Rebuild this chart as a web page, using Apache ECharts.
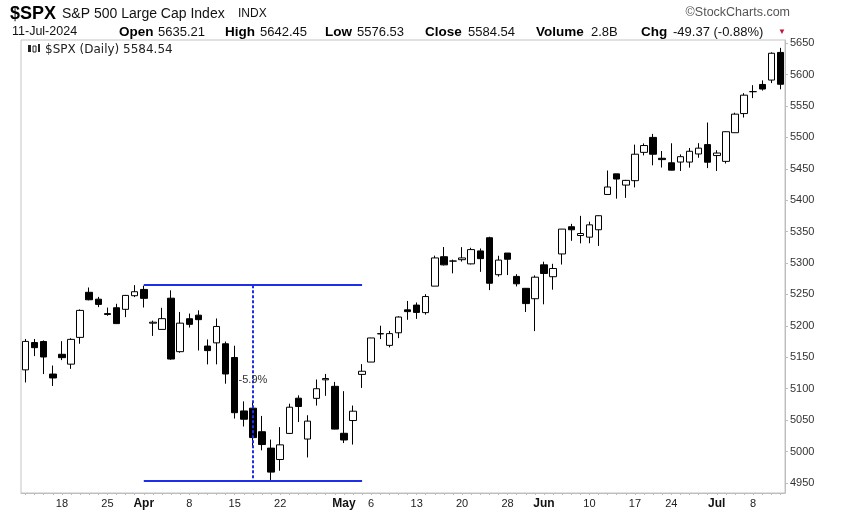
<!DOCTYPE html>
<html><head><meta charset="utf-8">
<script src="https://cdn.jsdelivr.net/npm/echarts@6/dist/echarts.min.js"></script>
<style>html,body{margin:0;padding:0;background:#fff}#c{width:848px;height:513px}</style>
</head><body><div id="c"></div>
<script>
const dates = [
'2024-03-12','2024-03-13','2024-03-14','2024-03-15','2024-03-18','2024-03-19','2024-03-20','2024-03-21','2024-03-22','2024-03-25','2024-03-26','2024-03-27','2024-03-28',
'2024-04-01','2024-04-02','2024-04-03','2024-04-04','2024-04-05','2024-04-08','2024-04-09','2024-04-10','2024-04-11','2024-04-12','2024-04-15','2024-04-16','2024-04-17','2024-04-18','2024-04-19','2024-04-22','2024-04-23','2024-04-24','2024-04-25','2024-04-26','2024-04-29','2024-04-30',
'2024-05-01','2024-05-02','2024-05-03','2024-05-06','2024-05-07','2024-05-08','2024-05-09','2024-05-10','2024-05-13','2024-05-14','2024-05-15','2024-05-16','2024-05-17','2024-05-20','2024-05-21','2024-05-22','2024-05-23','2024-05-24','2024-05-28','2024-05-29','2024-05-30','2024-05-31',
'2024-06-03','2024-06-04','2024-06-05','2024-06-06','2024-06-07','2024-06-10','2024-06-11','2024-06-12','2024-06-13','2024-06-14','2024-06-17','2024-06-18','2024-06-20','2024-06-21','2024-06-24','2024-06-25','2024-06-26','2024-06-27','2024-06-28',
'2024-07-01','2024-07-02','2024-07-03','2024-07-05','2024-07-08','2024-07-09','2024-07-10','2024-07-11'];
const opens = [5130, 5173.49, 5175.14, 5123.31, 5154.77, 5139.09, 5181.69, 5253.43, 5242.48, 5219.52, 5228.85, 5226.31, 5248.03,
5257.97, 5204.29, 5194.37, 5244.05, 5158.95, 5211.37, 5217.03, 5167.88, 5172.95, 5171.51, 5149.67, 5064.59, 5068.97, 5031.52, 5005.44, 4987.33, 5028.85, 5084.86, 5019.88, 5084.65, 5114.13, 5103.78,
5029.03, 5049.32, 5122.78, 5142.42, 5187.20, 5168.98, 5189.03, 5225.49, 5233.08, 5221.10, 5263.26, 5310.07, 5303.10, 5305.35, 5298.69, 5319.28, 5340.26, 5281.45, 5315.91, 5278.73, 5259.77, 5243.21,
5297.15, 5278.24, 5314.48, 5357.80, 5343.81, 5341.22, 5353.00, 5409.13, 5441.93, 5424.08, 5431.11, 5476.15, 5499.99, 5466.77, 5459.58, 5460.73, 5460.71, 5473.59, 5488.48,
5471.08, 5461.84, 5507.44, 5537.91, 5572.75, 5584.24, 5591.26, 5635.21];
const highs = [5179.14, 5179.14, 5176.85, 5136.86, 5175.60, 5180.31, 5226.19, 5261.10, 5246.09, 5229.09, 5235.16, 5249.26, 5264.85,
5263.95, 5208.34, 5228.75, 5256.59, 5222.18, 5219.57, 5224.81, 5178.43, 5211.78, 5175.03, 5168.43, 5079.84, 5077.96, 5056.66, 5019.02, 5038.84, 5076.12, 5089.48, 5057.75, 5114.62, 5123.49, 5110.83,
5096.12, 5073.21, 5139.12, 5181.00, 5200.23, 5191.95, 5215.30, 5239.66, 5237.26, 5250.37, 5311.76, 5325.49, 5305.45, 5325.32, 5324.32, 5323.18, 5341.88, 5311.65, 5315.91, 5282.27, 5260.21, 5280.33,
5302.11, 5298.80, 5354.16, 5362.35, 5375.08, 5365.79, 5375.95, 5447.25, 5441.93, 5432.39, 5488.50, 5490.38, 5505.53, 5478.31, 5490.66, 5472.88, 5483.14, 5490.81, 5523.64,
5479.55, 5509.69, 5539.27, 5570.33, 5583.11, 5590.75, 5635.39, 5642.45];
const lows = [5110, 5151.88, 5123.30, 5104.35, 5145.47, 5131.59, 5171.55, 5240.66, 5229.87, 5216.09, 5203.42, 5213.92, 5245.82,
5229.20, 5184.05, 5194.37, 5146.06, 5157.21, 5197.35, 5160.78, 5138.70, 5138.77, 5107.94, 5052.47, 5039.83, 5007.25, 5001.89, 4953.56, 4969.40, 5027.96, 5047.02, 4990.58, 5073.14, 5088.65, 5035.31,
5013.45, 5011.05, 5101.22, 5142.42, 5178.96, 5165.86, 5180.41, 5209.68, 5211.16, 5217.98, 5263.26, 5296.19, 5283.59, 5302.40, 5297.87, 5286.01, 5256.93, 5278.39, 5280.89, 5262.70, 5222.10, 5191.68,
5234.32, 5257.63, 5297.64, 5335.36, 5331.33, 5331.52, 5327.25, 5409.13, 5402.51, 5403.75, 5420.40, 5471.32, 5455.56, 5452.03, 5447.59, 5446.56, 5451.87, 5467.54, 5451.12,
5446.53, 5458.43, 5507.42, 5531.63, 5562.51, 5574.57, 5586.44, 5576.53];
const closes = [5175.27, 5165.31, 5150.48, 5117.09, 5149.42, 5178.51, 5224.62, 5241.53, 5234.18, 5218.19, 5203.58, 5248.49, 5254.35,
5243.77, 5205.81, 5211.49, 5147.21, 5204.34, 5202.39, 5209.91, 5160.64, 5199.06, 5123.41, 5061.82, 5051.41, 5022.21, 5011.12, 4967.23, 5010.60, 5070.55, 5071.63, 5048.42, 5099.96, 5116.17, 5035.69,
5018.39, 5064.20, 5127.79, 5180.74, 5187.70, 5187.67, 5214.08, 5222.68, 5221.42, 5246.68, 5308.15, 5297.10, 5303.27, 5308.13, 5321.41, 5307.01, 5267.84, 5304.72, 5306.04, 5266.95, 5235.48, 5277.51,
5283.40, 5291.34, 5354.03, 5352.96, 5346.99, 5360.79, 5375.32, 5421.03, 5433.74, 5431.60, 5473.23, 5487.03, 5473.17, 5464.62, 5447.87, 5469.30, 5477.90, 5482.87, 5460.48,
5475.09, 5509.01, 5537.02, 5567.19, 5572.85, 5576.98, 5633.91, 5584.54];

const tickDates = ['2024-03-18','2024-03-25','2024-04-01','2024-04-08','2024-04-15','2024-04-22','2024-05-01','2024-05-06','2024-05-13','2024-05-20','2024-05-28','2024-06-03','2024-06-10','2024-06-17','2024-06-24','2024-07-01','2024-07-08'];
const tickTexts = ['18','25','Apr','8','15','22','May','6','13','20','28','Jun','10','17','24','Jul','8'];
const monthTexts = ['Apr','May','Jun','Jul'];
const yTicks = [4950,5000,5050,5100,5150,5200,5250,5300,5350,5400,5450,5500,5550,5600,5650];

const rangeStart = '2024-04-01', rangeEnd = '2024-05-03', rangeMid = '2024-04-17';
const rangeHigh = 5264.85, rangeLow = 4953.56;
const pctText = '-5.9%', pctValue = 5114;

const chart = echarts.init(document.getElementById('c'), null, {renderer:'canvas'});
const blue = '#1f2ee8';
const hdr = 'Liberation Sans, Arial, sans-serif';
function txt(x, y, text, size, weight, fill, family, align){
  return {type:'text', silent:true, style:{x:x, y:y, text:text, fontSize:size, fontWeight:weight||'normal', fill:fill||'#000', fontFamily:family||hdr, align:align||'left', verticalAlign:'middle'}};
}
const option = {
  animation:false,
  backgroundColor:'#fff',
  grid:{left:21, right:63, top:40, bottom:20, show:true, borderColor:'#c4c4c4', borderWidth:1, containLabel:false},
  xAxis:{type:'category', data:dates, boundaryGap:true,
    axisLine:{show:true, lineStyle:{color:'#bdbdbd'}},
    axisTick:{show:true, interval:0, length:2, alignWithLabel:true, lineStyle:{color:'#bdbdbd'}},
    axisLabel:{interval:(i,v)=>tickDates.indexOf(v)>=0, margin:5, color:'#222', fontSize:11, fontFamily:hdr,
      formatter:(v)=>{const t = tickTexts[tickDates.indexOf(v)]; return monthTexts.indexOf(t)>=0 ? '{m|'+t+'}' : t;},
      rich:{m:{fontWeight:'bold', fontSize:12, color:'#111', fontFamily:hdr}}},
    splitLine:{show:false}},
  yAxis:{type:'value', position:'right', min:4934, max:5655,
    axisLine:{show:true, lineStyle:{color:'#bdbdbd'}},
    axisTick:{show:true, length:3, customValues:yTicks, lineStyle:{color:'#bdbdbd'}},
    axisLabel:{customValues:yTicks, formatter:(v)=>String(v), color:'#333', fontSize:11, margin:5, fontFamily:hdr},
    splitLine:{show:false}},
  series:[{
    type:'candlestick', silent:true, barWidth:7,
    data: dates.map((d,i)=>[opens[i], closes[i], lows[i], highs[i]]),
    itemStyle:{color:'#ffffff', color0:'#000000', borderColor:'#000000', borderColor0:'#000000', borderColorDoji:'#000000', borderWidth:1},
    markLine:{silent:true, symbol:['none','none'], label:{show:false}, animation:false,
      lineStyle:{color:blue, width:2, type:'solid'},
      data:[
        [{coord:[rangeStart, rangeHigh]}, {coord:[rangeEnd, rangeHigh]}],
        [{coord:[rangeStart, rangeLow]}, {coord:[rangeEnd, rangeLow]}],
        [{coord:[rangeMid, rangeHigh], lineStyle:{color:blue, width:2, type:[3,2]}}, {coord:[rangeMid, rangeLow], lineStyle:{color:blue, width:2, type:[3,2]}}]
      ]},
    markPoint:{silent:true, animation:false, data:[
      {coord:[rangeMid, pctValue], symbol:'rect', symbolSize:1, itemStyle:{color:'rgba(0,0,0,0)'},
       label:{show:true, position:'inside', formatter:pctText, color:'#333', fontSize:11, fontFamily:hdr}}
    ]}
  }],
  graphic:[
    txt(10, 14, '$SPX', 18, 'bold', '#000'),
    txt(62, 14, 'S&P 500 Large Cap Index', 14, 'normal', '#111'),
    txt(238, 14, 'INDX', 12, 'normal', '#111'),
    txt(790, 13, '\u00A9StockCharts.com', 12.5, 'normal', '#555', hdr, 'right'),
    txt(12, 32, '11-Jul-2024', 12.5, 'normal', '#111'),
    txt(119, 32, 'Open', 13.5, 'bold', '#000'),
    txt(158, 32, '5635.21', 13, 'normal', '#111'),
    txt(225, 32, 'High', 13.5, 'bold', '#000'),
    txt(260, 32, '5642.45', 13, 'normal', '#111'),
    txt(325, 32, 'Low', 13.5, 'bold', '#000'),
    txt(357, 32, '5576.53', 13, 'normal', '#111'),
    txt(425, 32, 'Close', 13.5, 'bold', '#000'),
    txt(468, 32, '5584.54', 13, 'normal', '#111'),
    txt(536, 32, 'Volume', 13.5, 'bold', '#000'),
    txt(591, 32, '2.8B', 13, 'normal', '#111'),
    txt(641, 32, 'Chg', 13.5, 'bold', '#000'),
    txt(673, 32, '-49.37 (-0.88%)', 13, 'normal', '#111'),
    txt(778, 32, '\u25BC', 8, 'normal', '#c0143c', hdr),
    txt(45, 50, '$SPX (Daily) 5584.54', 12, 'normal', '#222', 'DejaVu Sans, Verdana, sans-serif'),
    {type:'rect', silent:true, shape:{x:28, y:45, width:3, height:7}, style:{fill:'#222'}},
    {type:'rect', silent:true, shape:{x:33, y:46, width:3, height:6}, style:{fill:'#fff', stroke:'#222', lineWidth:1}},
    {type:'rect', silent:true, shape:{x:38, y:44, width:2, height:8}, style:{fill:'#222'}}
  ]
};
chart.setOption(option);
</script></body></html>
